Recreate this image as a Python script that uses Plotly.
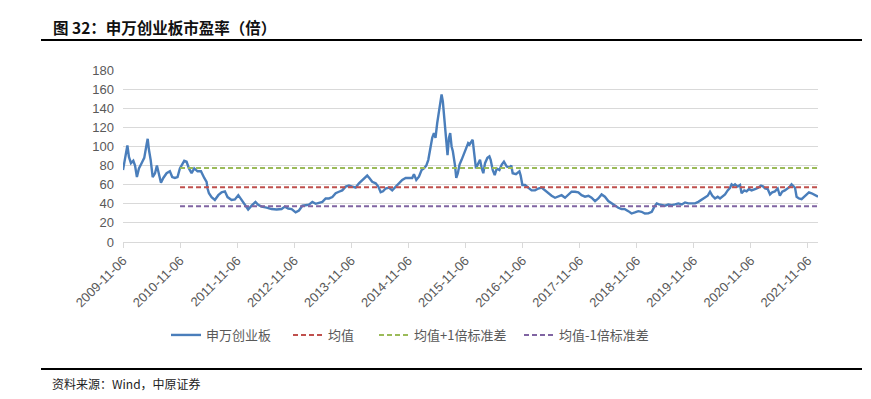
import plotly.graph_objects as go

# ---------------- data ----------------
dates = [
    "2009-11-06", "2009-11-19", "2009-12-04", "2009-12-14", "2009-12-27", "2010-01-11", "2010-01-22",
    "2010-02-03", "2010-02-16", "2010-03-05", "2010-03-22", "2010-04-06", "2010-04-13", "2010-04-21",
    "2010-05-02", "2010-05-15", "2010-05-30", "2010-06-11", "2010-06-24", "2010-07-07", "2010-07-22",
    "2010-08-12", "2010-09-02", "2010-09-17", "2010-10-04", "2010-10-21", "2010-11-05", "2010-11-20",
    "2010-12-03", "2010-12-18", "2011-01-02", "2011-01-19", "2011-02-05", "2011-02-26", "2011-03-20",
    "2011-04-10", "2011-04-25", "2011-05-01", "2011-05-10", "2011-05-27", "2011-06-17", "2011-07-09",
    "2011-07-30", "2011-08-20", "2011-09-06", "2011-10-02", "2011-10-23", "2011-11-14", "2011-12-05",
    "2011-12-26", "2012-01-16", "2012-02-07", "2012-03-03", "2012-03-20", "2012-04-11", "2012-05-13",
    "2012-06-14", "2012-07-16", "2012-08-17", "2012-09-07", "2012-09-28", "2012-10-20", "2012-11-15",
    "2012-12-06", "2012-12-28", "2013-01-18", "2013-02-08", "2013-03-02", "2013-03-23", "2013-04-13",
    "2013-05-05", "2013-05-26", "2013-06-16", "2013-07-08", "2013-07-29", "2013-08-19", "2013-09-09",
    "2013-10-01", "2013-10-22", "2013-11-12", "2013-12-04", "2013-12-25", "2014-01-15", "2014-02-06",
    "2014-02-16", "2014-03-03", "2014-03-20", "2014-04-11", "2014-04-28", "2014-05-13", "2014-05-28",
    "2014-06-14", "2014-07-05", "2014-07-26", "2014-08-17", "2014-09-07", "2014-09-28", "2014-10-20",
    "2014-11-10", "2014-12-01", "2014-12-12", "2014-12-27", "2015-01-13", "2015-01-30", "2015-02-14",
    "2015-03-01", "2015-03-14", "2015-03-28", "2015-04-08", "2015-04-19", "2015-04-29", "2015-05-10",
    "2015-05-21", "2015-05-31", "2015-06-07", "2015-06-15", "2015-06-26", "2015-07-07", "2015-07-15",
    "2015-07-24", "2015-08-01", "2015-08-10", "2015-08-18", "2015-08-31", "2015-09-09", "2015-09-19",
    "2015-09-30", "2015-10-13", "2015-10-28", "2015-11-12", "2015-11-24", "2015-12-03", "2015-12-23",
    "2015-12-31", "2016-01-13", "2016-01-28", "2016-02-08", "2016-02-19", "2016-02-29", "2016-03-11",
    "2016-03-26", "2016-04-08", "2016-04-16", "2016-04-29", "2016-05-12", "2016-05-25", "2016-06-11",
    "2016-06-26", "2016-07-10", "2016-07-28", "2016-08-14", "2016-08-26", "2016-09-04", "2016-09-25",
    "2016-10-17", "2016-10-25", "2016-11-05", "2016-11-22", "2016-12-13", "2017-01-03", "2017-01-25",
    "2017-02-15", "2017-03-08", "2017-03-30", "2017-04-20", "2017-05-11", "2017-06-02", "2017-06-23",
    "2017-07-14", "2017-08-05", "2017-08-26", "2017-09-16", "2017-10-08", "2017-10-29", "2017-11-19",
    "2017-12-11", "2018-01-02", "2018-01-22", "2018-02-13", "2018-03-06", "2018-03-27", "2018-04-17",
    "2018-05-09", "2018-05-30", "2018-06-20", "2018-07-12", "2018-08-02", "2018-08-23", "2018-09-14",
    "2018-10-05", "2018-10-26", "2018-11-17", "2018-12-08", "2018-12-29", "2019-01-20", "2019-02-11",
    "2019-02-28", "2019-03-15", "2019-03-30", "2019-04-16", "2019-05-07", "2019-05-28", "2019-06-19",
    "2019-07-10", "2019-07-31", "2019-08-22", "2019-09-12", "2019-10-03", "2019-10-24", "2019-11-15",
    "2019-12-06", "2019-12-27", "2020-01-18", "2020-02-04", "2020-02-19", "2020-03-05", "2020-03-22",
    "2020-04-08", "2020-04-23", "2020-05-08", "2020-05-25", "2020-06-11", "2020-06-26", "2020-07-06",
    "2020-07-17", "2020-07-28", "2020-08-14", "2020-08-29", "2020-09-08", "2020-09-25", "2020-10-10",
    "2020-10-25", "2020-11-11", "2020-12-03", "2020-12-24", "2021-01-10", "2021-01-25", "2021-02-05",
    "2021-02-22", "2021-03-09", "2021-03-23", "2021-04-09", "2021-04-27", "2021-05-11", "2021-05-26",
    "2021-06-12", "2021-06-30", "2021-07-14", "2021-07-25", "2021-08-05", "2021-08-16", "2021-08-26",
    "2021-09-10", "2021-09-27", "2021-10-14", "2021-10-29", "2021-11-13", "2021-11-30", "2021-12-17",
    "2021-12-31", "2022-01-10",
]
pe_values = [
    75.4, 86, 101, 89, 82.5, 85, 80,
    68, 77, 82.5, 88, 102, 108, 96.5,
    86, 68, 72, 80, 70, 62, 67,
    72, 74, 68, 67, 68, 77, 81,
    85, 84, 77, 72, 77, 74, 74,
    67, 63, 56, 51, 47, 44, 49,
    52, 53, 47, 44, 44.5, 49, 44,
    39, 34, 38, 42, 39, 37, 36,
    34.5, 34, 34.5, 37, 35, 34.5, 31,
    33, 38, 38.5, 39, 42, 40, 41,
    42, 45.6, 45.6, 47, 51, 52.6, 54,
    58, 59, 58, 57, 61.4, 65, 68.4,
    69.5, 66.7, 63, 61.4, 58, 52, 53,
    56, 57, 54, 58, 61.4, 65, 67,
    66.7, 67, 71, 65, 68.4, 75.4, 77,
    80, 86, 98, 109, 114, 109, 124.5,
    137, 151, 154.5, 147, 126, 105, 91,
    109, 114, 100, 95, 81, 67, 72,
    81, 86, 93, 100, 103.5, 102, 107,
    95, 77, 82.5, 86, 77, 72, 82.5,
    88, 89.5, 86, 75.4, 70, 77, 75.4,
    81, 84, 79, 78, 80, 72, 71,
    74, 69.5, 59.6, 59.6, 57, 54, 54,
    56, 57, 54, 51, 48.4, 46.3, 47.4,
    49, 46.3, 49, 52.6, 52.6, 52, 49,
    47.4, 48.4, 46.3, 42.8, 45.6, 49.8, 47.4,
    42.8, 40.4, 38, 35.8, 34.4, 34.4, 32.3,
    29.8, 30.9, 32.3, 31.6, 29.8, 30, 31.6,
    37, 40.4, 39.3, 38.6, 38, 39.3, 38.6,
    39.3, 40.4, 39.3, 41.4, 40.4, 40.4, 40.4,
    42, 44, 46.3, 48.4, 52.6, 48.4, 45.6,
    47.4, 45.6, 47.4, 49.8, 54, 56.8, 60.4,
    59, 60.4, 58, 59.6, 51, 54, 53,
    55.4, 54, 55.4, 56.8, 59, 58, 56,
    55.4, 49.8, 52, 53, 56, 48.4, 52.6,
    54, 56, 58, 60.4, 58, 56.8, 47.4,
    45.6, 44.9, 47.4, 49.8, 52, 51, 49.8,
    48.4, 47.4,
]

band_start = "2010-11-06"          # reference lines begin here
band_end = "2022-01-10"
mean_value = 57.3
upper_value = 77.4                 # 均值+1倍标准差
lower_value = 37.3                 # 均值-1倍标准差

tick_dates = ["2009-11-06", "2010-11-06", "2011-11-06", "2012-11-06", "2013-11-06", "2014-11-06",
              "2015-11-06", "2016-11-06", "2017-11-06", "2018-11-06", "2019-11-06", "2020-11-06",
              "2021-11-06"]
y_ticks = [0, 20, 40, 60, 80, 100, 120, 140, 160, 180]

series_names = ["申万创业板", "均值", "均值+1倍标准差", "均值-1倍标准差"]
title_text = "图 32：申万创业板市盈率（倍）"
source_text = "资料来源：Wind，中原证券"

# ---------------- layout geometry ----------------
W, H = 871, 399
L, R, T, B = 123, 53, 70, 157
PW, PH = W - L - R, H - T - B


def px_x(px):
    return (px - L) / PW


def px_y(py):
    return (H - B - py) / PH


cjk = "Noto Sans CJK SC"
latin = "Liberation Sans"
legend_font = dict(family=cjk, size=13, color="#595959")

fig = go.Figure()
fig.add_trace(go.Scatter(x=dates, y=pe_values, mode="lines", name=series_names[0],
                         line=dict(color="#4A7EBB", width=2.4), legend="legend"))
fig.add_trace(go.Scatter(x=[band_start, band_end], y=[mean_value, mean_value], mode="lines",
                         name=series_names[1], line=dict(color="#C0504D", width=2, dash="5px,3px"),
                         legend="legend2"))
fig.add_trace(go.Scatter(x=[band_start, band_end], y=[upper_value, upper_value], mode="lines",
                         name=series_names[2], line=dict(color="#9BBB59", width=2, dash="5px,3px"),
                         legend="legend3"))
fig.add_trace(go.Scatter(x=[band_start, band_end], y=[lower_value, lower_value], mode="lines",
                         name=series_names[3], line=dict(color="#8064A2", width=2, dash="5px,3px"),
                         legend="legend4"))


def legend_at(px):
    return dict(orientation="h", x=px_x(px), y=px_y(335), xanchor="left", yanchor="middle",
                font=legend_font, bgcolor="rgba(0,0,0,0)", borderwidth=0)


fig.update_layout(
    width=W, height=H,
    margin=dict(l=L, r=R, t=T, b=B),
    paper_bgcolor="white", plot_bgcolor="white",
    font=dict(family=latin, color="#595959"),
    showlegend=True,
    legend=legend_at(166),
    legend2=legend_at(288),
    legend3=legend_at(374),
    legend4=legend_at(519),
    xaxis=dict(
        type="date", range=[dates[0], band_end],
        tickmode="array", tickvals=tick_dates, ticktext=tick_dates,
        tickangle=-45, tickfont=dict(family=latin, size=13, color="#595959"),
        ticks="outside", ticklen=5, tickcolor="#D9D9D9",
        showgrid=False, showline=True, linecolor="#D9D9D9", linewidth=1, zeroline=False,
    ),
    yaxis=dict(
        range=[0, 180], tickmode="array", tickvals=y_ticks,
        tickfont=dict(family=latin, size=13, color="#595959"),
        showgrid=True, gridcolor="#D9D9D9", gridwidth=1, zeroline=False, showline=False,
        ticks="", ticklabelstandoff=8,
    ),
)

# title, separators and source
fig.add_annotation(text="<b>" + title_text + "</b>", xref="paper", yref="paper",
                   x=px_x(51), y=px_y(27), xanchor="left", yanchor="middle", showarrow=False,
                   font=dict(family=cjk, size=15.5, color="#111111"))
fig.add_shape(type="line", xref="paper", yref="paper", x0=px_x(41), x1=px_x(862),
              y0=px_y(40), y1=px_y(40), line=dict(color="black", width=2))
fig.add_shape(type="line", xref="paper", yref="paper", x0=px_x(41), x1=px_x(862),
              y0=px_y(369), y1=px_y(369), line=dict(color="black", width=2))
fig.add_annotation(text=source_text, xref="paper", yref="paper",
                   x=px_x(50), y=px_y(383), xanchor="left", yanchor="middle", showarrow=False,
                   font=dict(family=cjk, size=12, color="#222222"))

fig.write_html("out.html", config={"displayModeBar": False},
               post_script="document.body.style.margin='0px';")
